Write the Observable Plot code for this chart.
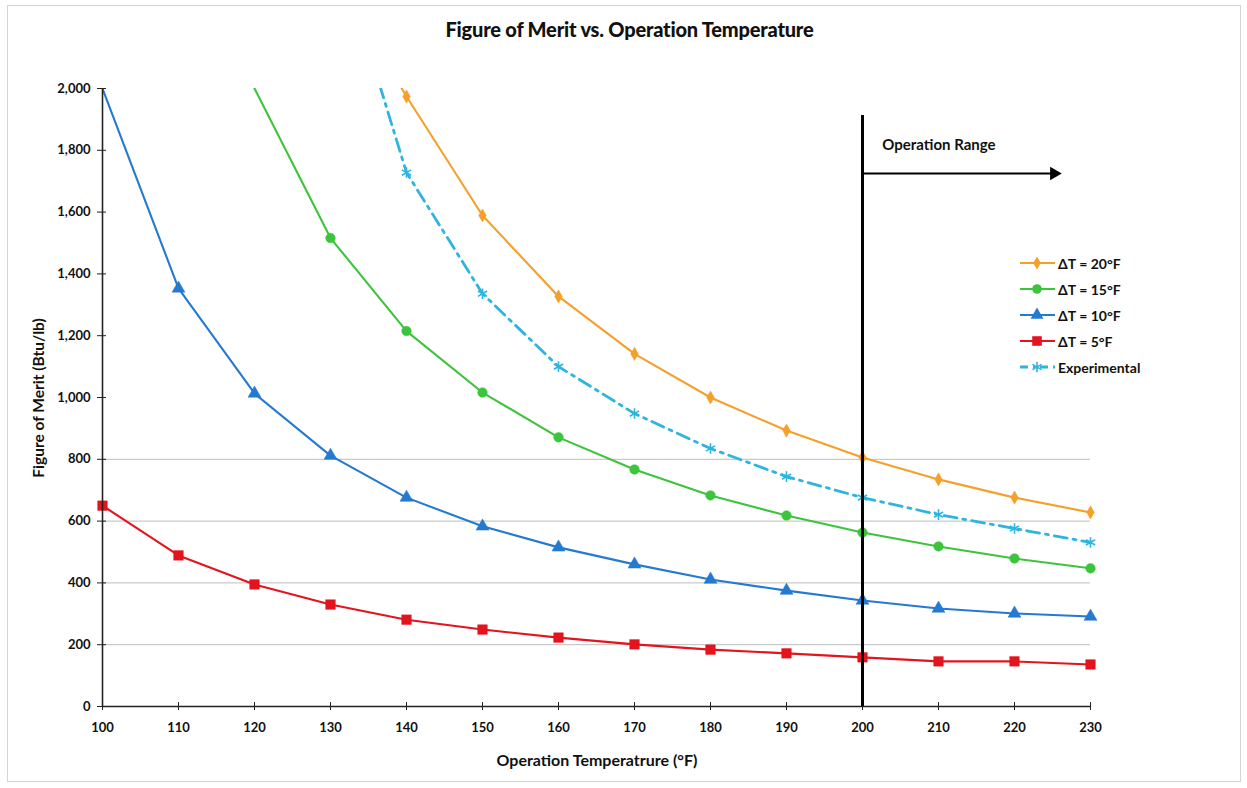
<!DOCTYPE html>
<html>
<head>
<meta charset="utf-8">
<script src="https://cdn.jsdelivr.net/npm/d3@7"></script>
<script src="https://cdn.jsdelivr.net/npm/@observablehq/plot@0.6"></script>
<style>
  html, body { margin: 0; padding: 0; background: #fff; }
  #wrap { position: relative; width: 1247px; height: 788px; font-family: Lato, "Open Sans", sans-serif; overflow: hidden; }
  #frame { position: absolute; left: 7px; top: 5px; width: 1234px; height: 777px; border: 1px solid #d4d4d4; box-sizing: border-box; }
  #title { position: absolute; top: 17px; left: 0; width: 1247px; text-align: center; font-weight: 900; font-size: 20px; color: #111; padding-left: 12px; box-sizing: border-box; letter-spacing: -0.2px; }
  #chart { position: absolute; left: 0; top: 60px; }
  #chart svg text { font-weight: bold; }
  #ylabel { position: absolute; left: 38px; top: 398px; transform: translate(-50%, -50%) rotate(-90deg); white-space: nowrap; font-weight: bold; font-size: 15.5px; color: #111; }
  #xlabel { position: absolute; top: 750px; left: 597px; transform: translateX(-50%); white-space: nowrap; font-weight: bold; font-size: 16px; color: #111; }
  #legend { position: absolute; left: 1018px; top: 250px; font-size: 14px; font-weight: bold; color: #111; }
  #legend .row { display: flex; align-items: center; height: 26px; }
  #legend svg { margin-right: 2px; }
</style>
</head>
<body>
<div id="wrap">
  <div id="frame"></div>
  <div id="title">Figure of Merit vs. Operation Temperature</div>
  <div id="chart"></div>
  <div id="ylabel">Figure of Merit (Btu/lb)</div>
  <div id="xlabel">Operation Temperatrure (°F)</div>
  <div id="legend"></div>
</div>
<script>
// ---- data ----
const temps = [100, 110, 120, 130, 140, 150, 160, 170, 180, 190, 200, 210, 220, 230];
const dT20 = [null, null, null, 2400, 1974, 1589, 1327, 1141, 1000, 893, 806, 735, 676, 628];
const dT15 = [null, null, 2000, 1516, 1215, 1016, 871, 767, 683, 618, 563, 518, 479, 447];
const dT10 = [2000, 1353, 1013, 812, 676, 583, 515, 460, 411, 375, 343, 317, 301, 291];
const dT5 = [650, 489, 395, 330, 281, 249, 223, 201, 184, 172, 159, 146, 146, 136];
const experimental = [null, null, null, 2530, 1728, 1336, 1100, 948, 835, 744, 676, 621, 576, 531];

const seriesNames = ["ΔT = 20°F", "ΔT = 15°F", "ΔT = 10°F", "ΔT = 5°F", "Experimental"];
const seriesValues = [dT20, dT15, dT10, dT5, experimental];
const seriesColors = ["#f5a02a", "#3cc43c", "#2479d0", "#e3141e", "#2fb4e0"];
const seriesSymbols = ["diamond", "circle", "triangle", "square", "asterisk"];
const seriesRadius = [4, 4.8, 4.8, 5.4, 5];
const seriesDash = [null, null, null, null, "13,6,3,6"];

const xTicks = [100, 110, 120, 130, 140, 150, 160, 170, 180, 190, 200, 210, 220, 230];
const yTicks = [0, 200, 400, 600, 800, 1000, 1200, 1400, 1600, 1800, 2000];
const gridY = [200, 400, 600, 800];

// annotation: operation range
const rangeStart = [200];
const rangeTop = 1913;
const rangeArrow = [{x1: 200, x2: 225.2, y: 1725}];
const rangeLabel = [{x: 202.6, y: 1815, text: "Operation Range"}];

// ---- build table ----
const rows = [];
seriesNames.forEach((name, s) => {
  temps.forEach((t, i) => {
    const v = seriesValues[s][i];
    if (v != null) rows.push({series: name, s, t, v});
  });
});

const marks = [];
marks.push(Plot.ruleY(gridY, {stroke: "#bdbdbd", strokeWidth: 1}));
seriesNames.forEach((name, s) => {
  const data = rows.filter(d => d.s === s);
  marks.push(Plot.line(data, {
    x: "t", y: "v", stroke: seriesColors[s], strokeWidth: s === 4 ? 2.8 : 2.1,
    strokeDasharray: seriesDash[s], curve: "linear", clip: true
  }));
});
// markers (ones on the top edge are clipped away)
seriesNames.forEach((name, s) => {
  const data = rows.filter(d => d.s === s && d.v < 1990);
  const filled = seriesSymbols[s] !== "asterisk";
  marks.push(Plot.dot(data, {
    x: "t", y: "v", symbol: () => seriesSymbols[s], r: seriesRadius[s],
    fill: filled ? seriesColors[s] : "none",
    stroke: seriesColors[s], strokeWidth: filled ? 0.5 : 1.6
  }));
});
// axes lines and crossing ticks
marks.push(Plot.ruleX([100], {stroke: "#222", strokeWidth: 1.6}));
marks.push(Plot.ruleY([0], {stroke: "#222", strokeWidth: 1.6}));
marks.push(Plot.ruleX(xTicks, {y1: 0, y2: 0, insetTop: -4, insetBottom: -4, stroke: "#222", strokeWidth: 1}));
marks.push(Plot.ruleY(yTicks, {x1: 100, x2: 100, insetLeft: -5, insetRight: -4, stroke: "#222", strokeWidth: 1}));
marks.push(Plot.axisX(xTicks, {tickSize: 0, tickPadding: 16, fontSize: 13, label: null}));
marks.push(Plot.axisY(yTicks, {tickSize: 0, tickPadding: 12, fontSize: 13, label: null, tickFormat: d3.format(",")}));
// operation range annotation
marks.push(Plot.ruleX(rangeStart, {y1: 0, y2: rangeTop, stroke: "#000", strokeWidth: 3}));
marks.push(Plot.link(rangeArrow, {x1: "x1", x2: "x2", y1: "y", y2: "y", stroke: "#000", strokeWidth: 2.2}));
marks.push(Plot.dot(rangeArrow, {x: "x2", y: "y", symbol: "triangle", r: 5, rotate: 90, fill: "#000"}));
marks.push(Plot.text(rangeLabel, {x: "x", y: "y", text: "text", textAnchor: "start", fontSize: 15, fill: "#111"}));

const chart = Plot.plot({
  width: 1247,
  height: 728,
  marginTop: 28,
  marginBottom: 82,
  marginLeft: 102,
  marginRight: 157,
  style: {fontFamily: "Lato, 'Open Sans', sans-serif", fontSize: "13px", color: "#111", background: "transparent"},
  x: {domain: [100, 230]},
  y: {domain: [0, 2000]},
  marks
});
document.getElementById("chart").appendChild(chart);

// ---- legend ----
const legend = document.getElementById("legend");
const ns = "http://www.w3.org/2000/svg";
const symMap = {diamond: d3.symbolDiamond, circle: d3.symbolCircle, triangle: d3.symbolTriangle, square: d3.symbolSquare, asterisk: d3.symbolAsterisk};
seriesNames.forEach((name, s) => {
  const row = document.createElement("div");
  row.className = "row";
  const svg = document.createElementNS(ns, "svg");
  svg.setAttribute("width", 38);
  svg.setAttribute("height", 16);
  const line = document.createElementNS(ns, "line");
  line.setAttribute("x1", 2); line.setAttribute("x2", 37);
  line.setAttribute("y1", 8); line.setAttribute("y2", 8);
  line.setAttribute("stroke", seriesColors[s]);
  line.setAttribute("stroke-width", s === 4 ? 2.8 : 2.1);
  if (s === 4) line.setAttribute("stroke-dasharray", "8,5,2,5");
  svg.appendChild(line);
  const r = seriesRadius[s];
  const p = document.createElementNS(ns, "path");
  p.setAttribute("d", d3.symbol(symMap[seriesSymbols[s]], Math.PI * r * r)());
  p.setAttribute("transform", "translate(19,8)");
  if (seriesSymbols[s] === "asterisk") {
    p.setAttribute("fill", "none");
    p.setAttribute("stroke", seriesColors[s]);
    p.setAttribute("stroke-width", 1.6);
  } else {
    p.setAttribute("fill", seriesColors[s]);
  }
  svg.appendChild(p);
  row.appendChild(svg);
  const label = document.createElement("span");
  label.textContent = name;
  row.appendChild(label);
  legend.appendChild(row);
});
</script>
</body>
</html>
